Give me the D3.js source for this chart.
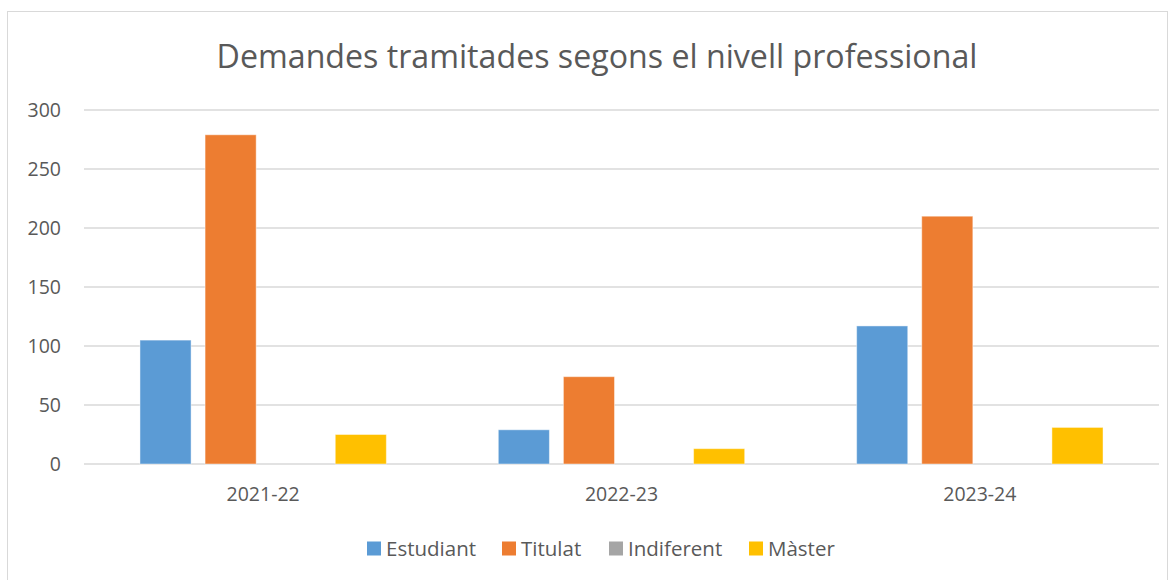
<!DOCTYPE html>
<html>
<head>
<meta charset="utf-8">
<script src="https://cdn.jsdelivr.net/npm/d3@7"></script>
<style>
  html, body { margin: 0; padding: 0; background: #fff; }
  svg { display: block; }
</style>
</head>
<body>
<div id="chart"></div>
<script>
const categories = ["2021-22", "2022-23", "2023-24"];
const seriesNames = ["Estudiant", "Titulat", "Indiferent", "Màster"];
const estudiant = [105, 29, 117];
const titulat = [279, 74, 210];
const indiferent = [0, 0, 0];
const master = [25, 13, 31];
const yTicks = [0, 50, 100, 150, 200, 250, 300];

const colors = ["#5b9bd5", "#ed7d31", "#a5a5a5", "#ffc000"];
const seriesValues = [estudiant, titulat, indiferent, master];

const width = 1176, height = 580;
const margin = { top: 110, right: 17, bottom: 116, left: 84 };
const font = "Open Sans, Noto Sans, sans-serif";
const textColor = "#595959";

const svg = d3.select("#chart").append("svg")
  .attr("width", width)
  .attr("height", height);

// chart frame
svg.append("rect")
  .attr("x", 7.5).attr("y", 11.5)
  .attr("width", 1160).attr("height", 580)
  .attr("fill", "#fff")
  .attr("stroke", "#d9d9d9")
  .attr("stroke-width", 1);

const chartWidth = width - margin.left - margin.right;
const chartHeight = height - margin.top - margin.bottom;

const g = svg.append("g").attr("transform", `translate(${margin.left},${margin.top})`);

const x0 = d3.scaleBand().domain(categories).range([0, chartWidth]).padding(0);
const x1 = d3.scaleBand().domain(seriesNames).range([0, x0.bandwidth()])
  .paddingInner(0.215).paddingOuter(0.86);
const y = d3.scaleLinear().domain([0, 300]).range([chartHeight, 0]);

// gridlines
g.append("g")
  .selectAll("line")
  .data(yTicks)
  .enter()
  .append("line")
  .attr("x1", 0).attr("x2", chartWidth)
  .attr("y1", d => y(d)).attr("y2", d => y(d))
  .attr("stroke", "#d9d9d9")
  .attr("stroke-width", 1.3);

// y axis labels
const yAxis = d3.axisLeft(y).tickValues(yTicks).tickSize(0).tickPadding(23);
g.append("g")
  .call(yAxis)
  .call(s => s.select(".domain").remove())
  .call(s => s.selectAll("text")
    .attr("fill", textColor)
    .style("font-family", font)
    .style("font-size", "19.5px"));

// bars
const rows = categories.map((c, i) => ({
  cat: c,
  vals: seriesNames.map((s, j) => ({ name: s, value: seriesValues[j][i], color: colors[j] }))
}));

g.selectAll(".grp")
  .data(rows)
  .enter()
  .append("g")
  .attr("class", "grp")
  .attr("transform", d => `translate(${x0(d.cat)},0)`)
  .selectAll("rect")
  .data(d => d.vals.filter(v => v.value > 0))
  .enter()
  .append("rect")
  .attr("x", d => x1(d.name))
  .attr("y", d => y(d.value))
  .attr("width", x1.bandwidth())
  .attr("height", d => y(0) - y(d.value))
  .attr("fill", d => d.color)
  .attr("stroke", "rgba(255,255,255,0.45)")
  .attr("stroke-width", 1);

// x axis labels
const xAxis = d3.axisBottom(x0).tickSize(0).tickPadding(23);
g.append("g")
  .attr("transform", `translate(0,${chartHeight})`)
  .call(xAxis)
  .call(s => s.select(".domain").remove())
  .call(s => s.selectAll("text")
    .attr("fill", textColor)
    .style("font-family", font)
    .style("font-size", "19.5px"));

// title
const title = svg.append("text")
  .attr("x", 597)
  .attr("y", 68)
  .attr("text-anchor", "middle")
  .attr("fill", textColor)
  .style("font-family", font)
  .style("font-size", "31px")
  .text("Demandes tramitades segons el nivell professional");
const tw = title.node().getComputedTextLength();
title.style("font-size", (31 * 761 / tw).toFixed(2) + "px");

// legend
const legendX = [367, 502, 609, 749];
const legend = svg.append("g");
seriesNames.forEach((name, i) => {
  legend.append("rect")
    .attr("x", legendX[i]).attr("y", 541.5)
    .attr("width", 14).attr("height", 14)
    .attr("fill", colors[i]);
  legend.append("text")
    .attr("x", legendX[i] + 19)
    .attr("y", 556)
    .attr("fill", textColor)
    .style("font-family", font)
    .style("font-size", "20.5px")
    .text(name);
});
</script>
</body>
</html>
